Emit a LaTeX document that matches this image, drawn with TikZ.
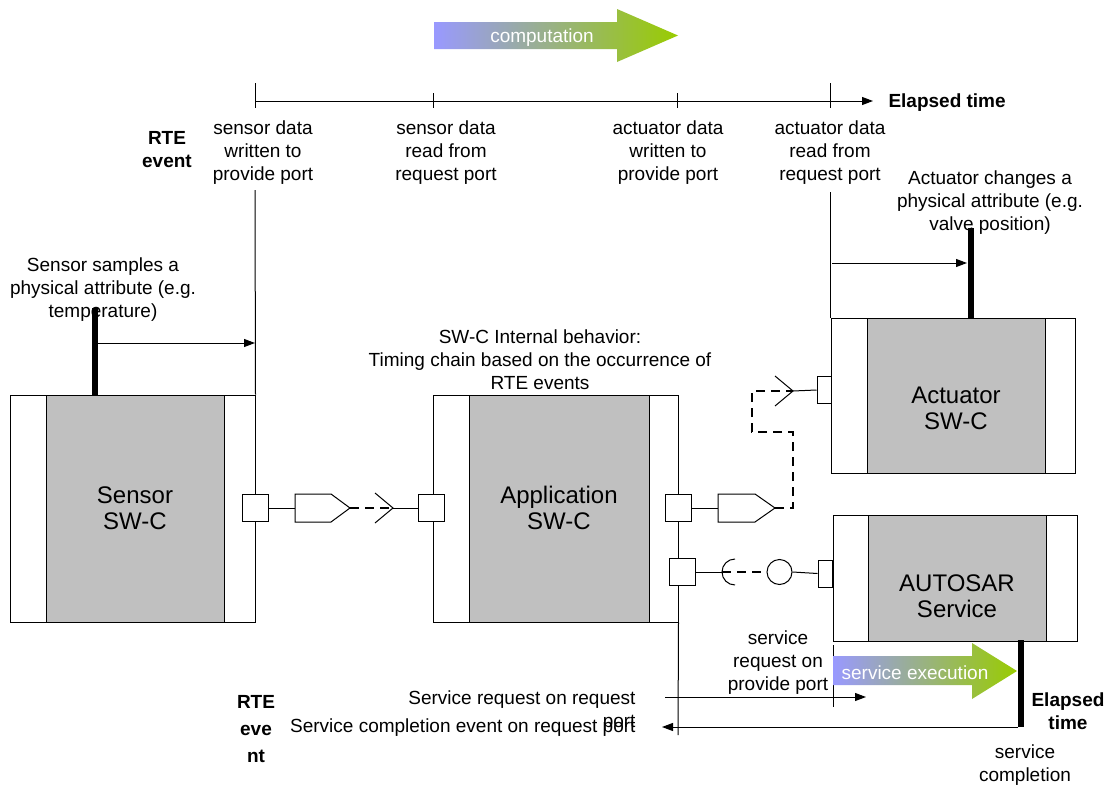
\documentclass[tikz,border=0pt]{standalone}
\usepackage{fontspec}
\setmainfont{Liberation Sans}
\usetikzlibrary{arrows.meta,calc}

\definecolor{coregray}{RGB}{192,192,192}
\definecolor{gradblue}{RGB}{153,153,255}
\definecolor{gradgreen}{RGB}{153,204,0}

\tikzset{
  swc/.style={draw, fill=white, inner sep=0pt, line width=1pt},
  core/.style={draw, fill=coregray, inner sep=0pt, line width=1pt},
  port/.style={draw, fill=white, inner sep=0pt, minimum width=26pt, minimum height=27pt, line width=1pt},
  halfport/.style={port, minimum width=14pt},
  txt/.style={align=center, inner sep=0pt, yshift=-2pt, font=\fontsize{19}{23}\selectfont},
  btxt/.style={align=center, inner sep=0pt, yshift=-2pt, font=\fontsize{19}{23}\selectfont\bfseries},
  big/.style={align=center, inner sep=0pt, font=\fontsize{24}{26}\selectfont},
  tline/.style={line width=1pt, -{Triangle[length=11pt,width=8pt]}},
  bar/.style={line width=6pt},
  conn/.style={line width=2pt, dash pattern=on 9pt off 6pt},
}

\begin{document}
\begin{tikzpicture}[x=1pt, y=-1pt, line width=1pt]
\useasboundingbox (0,0) rectangle (1112,787);

%% computation arrow
\shade[left color=gradblue, right color=gradgreen] (434,22) -- (617,22) -- (617,9) -- (678,35.5)
  -- (617,62) -- (617,49) -- (434,49) -- cycle;
\node[txt, text=white] (comp) at (542,36) {computation};

%% time line
\coordinate (t1) at (255,101);
\coordinate (t2) at (433,101);
\coordinate (t3) at (677,101);
\coordinate (t4) at (830,101);
\coordinate (tend) at (873,101);
\draw[tline] (t1) -- (tend);
\draw (255,83) -- (255,108);   %% t1
\draw (433,93) -- (433,108);   %% t2
\draw (677,93) -- (677,108);   %% t3
\draw (830,83) -- (830,108);   %% t4
\node[btxt, anchor=west] (elapsed1) at (888,101) {Elapsed time};

%% time line labels
\node[btxt] (rte1) at (167,148) {RTE\\event};
\node[txt] (l1) at (263,151) {sensor data\\written to\\provide port};
\node[txt] (l2) at (446,151) {sensor data\\read from\\request port};
\node[txt] (l3) at (668,151) {actuator data\\written to\\provide port};
\node[txt] (l4) at (830,151) {actuator data\\read from\\request port};

%% components
\node[swc, minimum width=245pt, minimum height=227pt] (sensor) at (132.5,508.5) {};
\node[core, minimum width=178pt, minimum height=227pt] (sensorcore) at (135,508.5) {};
\node[big] (sensortxt) at (135,508) {Sensor\\SW-C};

\node[swc, minimum width=245pt, minimum height=227pt] (app) at (555.5,508.5) {};
\node[core, minimum width=180pt, minimum height=227pt] (appcore) at (559,508.5) {};
\node[big] (apptxt) at (559,508) {Application\\SW-C};

\node[swc, minimum width=244pt, minimum height=155pt] (act) at (953,395.5) {};
\node[core, minimum width=178pt, minimum height=155pt] (actcore) at (956,395.5) {};
\node[big] (acttxt) at (956,408) {Actuator\\SW-C};

\node[swc, minimum width=244pt, minimum height=126pt] (srv) at (955,578) {};
\node[core, minimum width=178pt, minimum height=126pt] (srvcore) at (957,578) {};
\node[big] (srvtxt) at (957,596) {AUTOSAR\\Service};

%% physical attributes
\node[txt] (senslbl) at (103,288) {Sensor samples a\\physical attribute (e.g.\\temperature)};
\coordinate (sbar) at (95,308);
\draw[bar] (sbar) -- (sbar |- sensor.north);
\draw[tline] (98,343) -- (255,343);
\draw (255,190) -- (sensor.north east);

\node[txt] (actlbl) at (990,201) {Actuator changes a\\physical attribute (e.g.\\valve position)};
\coordinate (abar) at (970.5,228);
\draw[bar] (abar) -- (abar |- act.north);
\draw[tline] (832,263) -- (967,263);
\draw (830,192) -- (830,318);

\node[txt] (intlbl) at (540,358) {SW-C Internal behavior:\\Timing chain based on the occurrence of\\RTE events};

%% ports
\node[port] (sp) at (255,508) {};
\coordinate (pp1) at (295,508);
\coordinate (pp1tip) at (350,508);
\coordinate (rq1) at (393,508);
\node[port] (ap1) at (431,508) {};
\node[port] (ap2) at (678.5,508) {};
\coordinate (pp2) at (718,508);
\coordinate (pp2tip) at (775,508);
\coordinate (rq2) at (793,391);
\node[halfport] (acp) at (824,390) {};
\node[port] (ap3) at (682,572) {};
\coordinate (sk) at (735,572);
\node[circle, draw, fill=white, inner sep=0pt, minimum size=25pt] (ball) at (779.5,572) {};
\node[halfport] (svp) at (825,573.5) {};

%% provide port symbols
\draw[fill=white] ($(pp1)+(0,-14)$) -- ($(pp1tip)+(-19,-14)$) -- (pp1tip)
  -- ($(pp1tip)+(-19,14)$) -- ($(pp1)+(0,14)$) -- cycle;
\draw[fill=white] ($(pp2)+(0,-14)$) -- ($(pp2tip)+(-20,-14)$) -- (pp2tip)
  -- ($(pp2tip)+(-20,14)$) -- ($(pp2)+(0,14)$) -- cycle;

%% connectors
\draw (sp.east) -- (pp1);
\draw[conn] (pp1tip) -- (rq1);
\draw ([shift={(-18,-15)}]rq1) -- (rq1) -- ([shift={(-18,15)}]rq1);
\draw (rq1) -- (ap1.west);

\draw (ap2.east) -- (pp2);
\draw[conn, line width=1.6pt] (pp2tip) -| (793,432) -| (752,391) -- (rq2);
\draw ([shift={(-18,-15)}]rq2) -- (rq2) -- ([shift={(-18,15)}]rq2);
\draw (rq2) -- (acp.west);

\draw (ap3.east) -- ($(sk)+(-13,0)$);
\draw ($(sk)+(0,-13)$) arc[start angle=90, end angle=270, radius=13pt];
\draw[conn, line width=1.6pt] ($(sk)+(-13,0)$) -- (ball.west);
\draw (ball.east) -- (svp.west);

%% service call
\draw (app.south east) -- (678,735);
\draw (833,645) -- (833,707);
\shade[left color=gradblue, right color=gradgreen] (833,656) -- (972,656) -- (972,643) -- (1017,671)
  -- (972,699) -- (972,685) -- (833,685) -- cycle;
\node[txt, text=white] (exec) at (915,671) {service execution};
\node[txt] (srvreq) at (778,661) {service\\request on\\provide port};
\draw[tline] (665,697) -- (866,697);
\coordinate (cbar) at (1020.5,640);
\draw[bar] (cbar) -- (1020.5,727);
\draw[tline] (1018,727) -- (662,727);

\node[txt, align=right, anchor=east] (reqtxt) at (636,709) {Service request on request\\port};
\node[txt, anchor=east] (cmptxt) at (636,726) {Service completion event on request port};
\node[btxt, font=\fontsize{19}{27}\selectfont\bfseries] (rte2) at (256,727) {RTE\\eve\\nt};
\node[btxt] (elapsed2) at (1068,709) {Elapsed\\time};
\node[txt] (srvdone) at (1025,763) {service\\completion};

\end{tikzpicture}
\end{document}
